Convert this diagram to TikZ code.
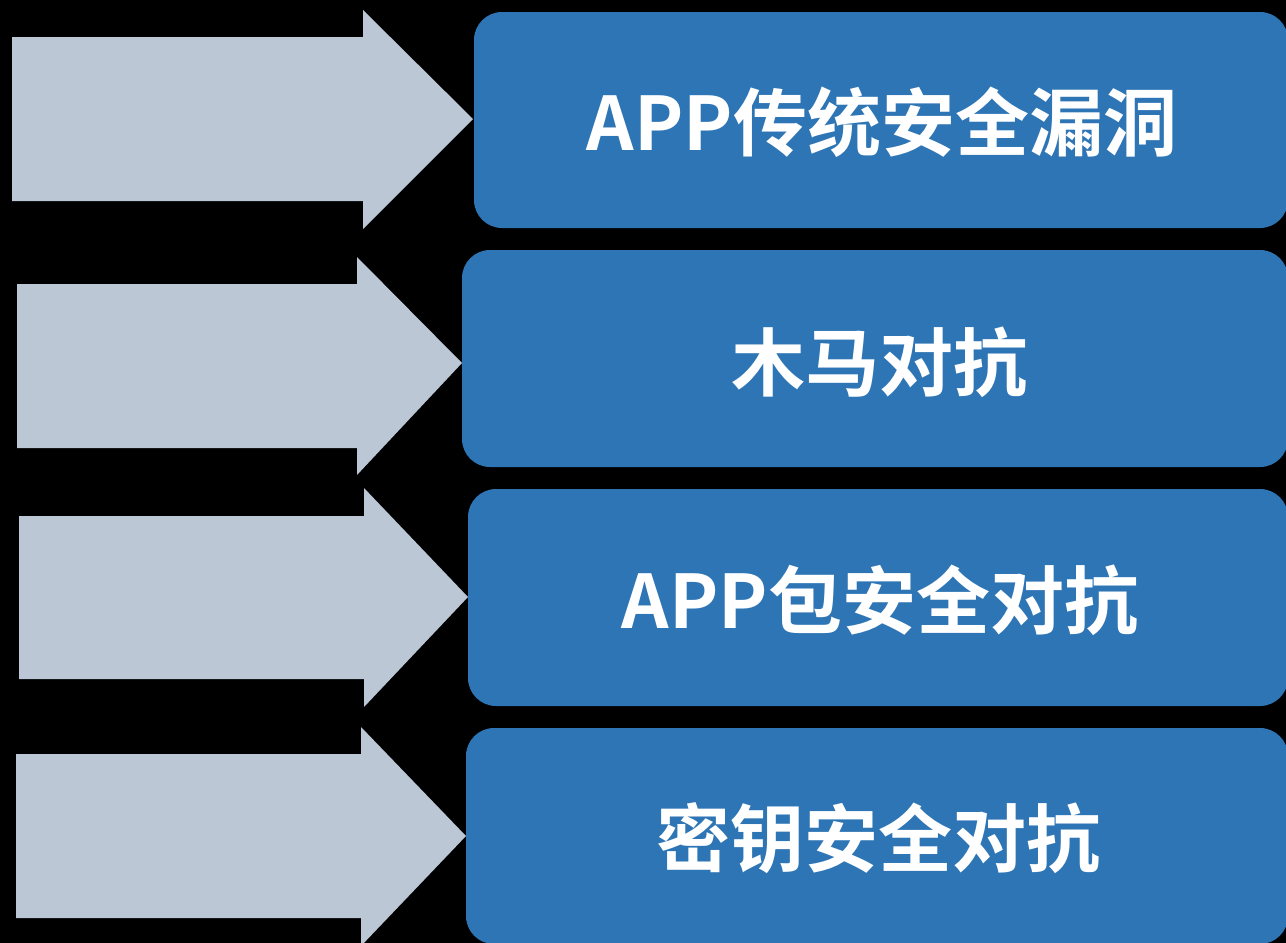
\documentclass[tikz,border=0pt]{standalone}
\usepackage{fontspec}
\newfontfamily\cjk{Noto Sans CJK SC}[BoldFont={Noto Sans CJK SC Bold}]
\definecolor{arrowfill}{HTML}{BBC7D5}
\definecolor{boxfill}{HTML}{2E75B5}
\tikzset{
  bigarrow/.style={fill=arrowfill, draw=none},
  itembox/.style={fill=boxfill, draw=none, rounded corners=28pt, inner sep=0pt},
  itemtext/.style={text=white, font=\cjk\bfseries\fontsize{74}{80}\selectfont, inner sep=0pt, anchor=center}
}
\begin{document}
\begin{tikzpicture}[x=1pt,y=-1pt]
\fill[black] (0,0) rectangle (1286,943);
\useasboundingbox (0,0) rectangle (1286,943);
% arrows
\fill[bigarrow] (12,37) -- (363,37) -- (363,10) -- (473,119) -- (363,229) -- (363,201) -- (12,201) -- cycle;
\fill[bigarrow] (17,284) -- (357,284) -- (357,257) -- (462,363) -- (357,475) -- (357,448) -- (17,448) -- cycle;
\fill[bigarrow] (19,516) -- (364,516) -- (364,488) -- (468,597) -- (364,707) -- (364,679) -- (19,679) -- cycle;
\fill[bigarrow] (16,754) -- (361,754) -- (361,727) -- (466,836) -- (361,946) -- (361,918) -- (16,918) -- cycle;
% boxes
\fill[itembox] (474,12) rectangle (1288,228);
\fill[itembox] (462,250) rectangle (1288,467);
\fill[itembox] (468,489) rectangle (1288,706);
\fill[itembox] (466,728) rectangle (1288,944);
% labels
\node[itemtext] (t1) at (882,122) {APP传统安全漏洞};
\node[itemtext] (t2) at (879,362) {木马对抗};
\node[itemtext] (t3) at (880,600) {APP包安全对抗};
\node[itemtext] (t4) at (878,838) {密钥安全对抗};
\end{tikzpicture}
\end{document}
